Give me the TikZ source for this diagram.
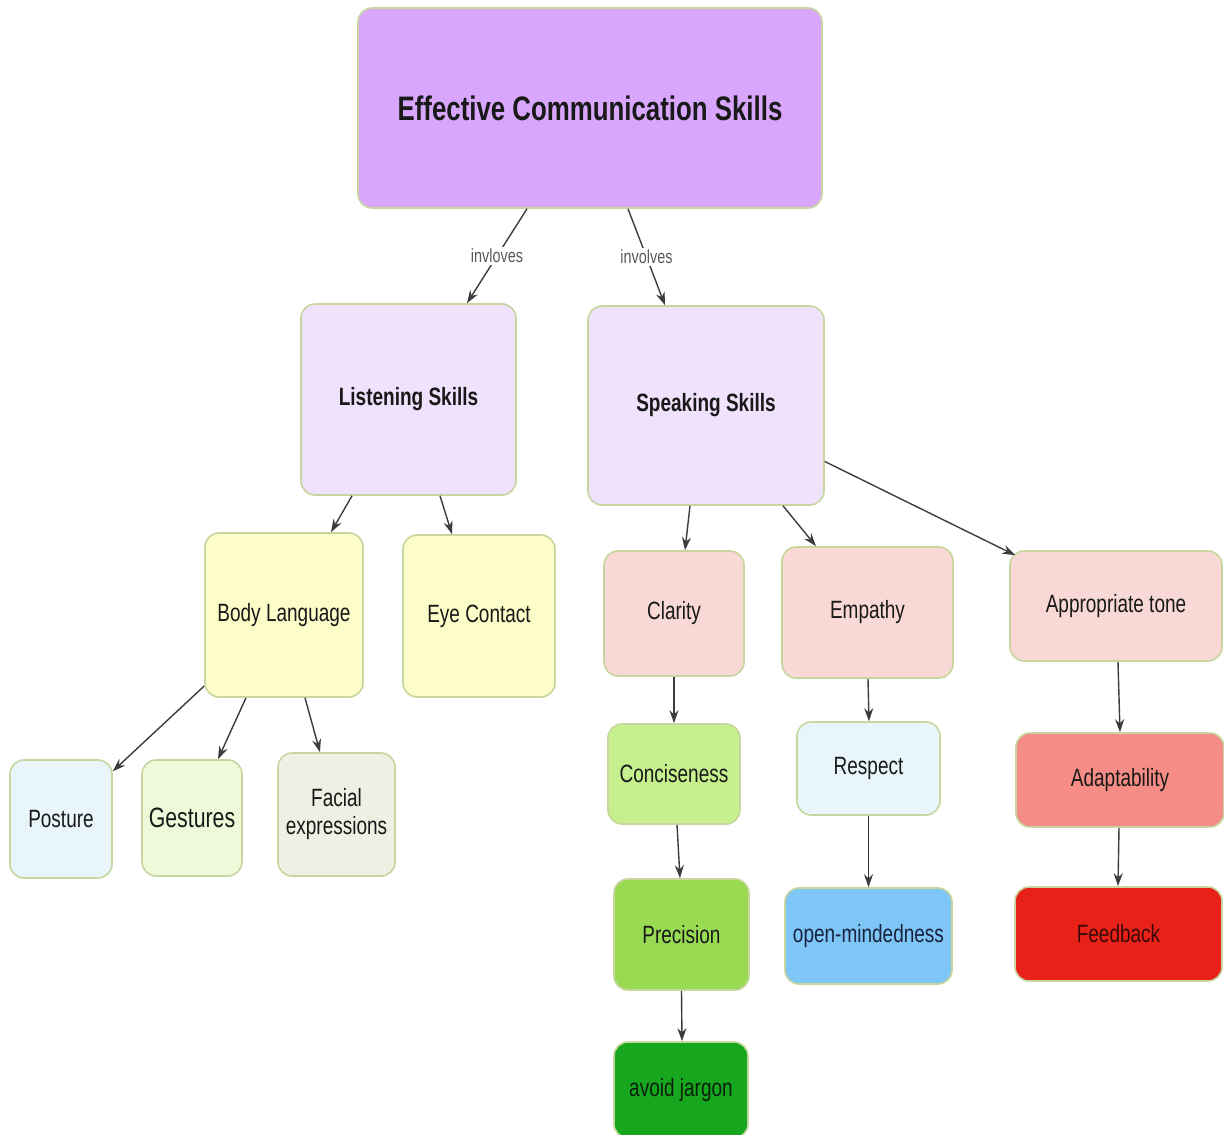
\documentclass[tikz,border=0pt]{standalone}
\usepackage{fontspec}
\setmainfont{Liberation Sans}[FakeStretch=0.76]
\usetikzlibrary{arrows.meta}
\definecolor{bord}{HTML}{C6D69E}
\definecolor{arr}{HTML}{3C3C3C}
\definecolor{cTitle}{HTML}{D8A6FC}
\definecolor{cLav}{HTML}{F0E2FC}
\definecolor{cYel}{HTML}{FDFDC9}
\definecolor{cBlueL}{HTML}{E8F5FA}
\definecolor{cGrnL}{HTML}{EEF9D9}
\definecolor{cGray}{HTML}{EFEFE3}
\definecolor{cPink}{HTML}{F8D9D5}
\definecolor{cConc}{HTML}{C5F08D}
\definecolor{cAdap}{HTML}{F58D86}
\definecolor{cPrec}{HTML}{98DB53}
\definecolor{cOpen}{HTML}{7DC6F6}
\definecolor{cFeed}{HTML}{E82119}
\definecolor{cAvoid}{HTML}{17A71F}
\definecolor{tOpen}{HTML}{1A2240}
\definecolor{tFeed}{HTML}{3A0A08}
\definecolor{tAvoid}{HTML}{0A200A}
\begin{document}
\begin{tikzpicture}[x=1pt,y=-1pt,
  box/.style={draw=bord, line width=1.6pt, rounded corners=14pt, align=center, inner sep=0pt, font=\fontsize{25}{28}\selectfont, text=black!90},
  conn/.style={draw=arr, line width=1.4pt, -{Stealth[length=13pt,width=9pt]}},
  lbl/.style={fill=white, inner sep=2pt, text=black!65, font=\fontsize{19}{21}\selectfont}]
\useasboundingbox (0,0) rectangle (1224,1135);
% nodes
\node[box, fill=cTitle, minimum width=464pt, minimum height=200pt, font=\fontsize{34}{40}\selectfont\bfseries] (ecs) at (590,108) {Effective Communication Skills};
\node[box, fill=cLav, minimum width=215pt, minimum height=191pt, font=\fontsize{25}{28}\selectfont\bfseries] (lis) at (408.5,399.5) {Listening Skills};
\node[box, fill=cLav, minimum width=236pt, minimum height=199pt, font=\fontsize{25}{28}\selectfont\bfseries] (spk) at (706,405.5) {Speaking Skills};
\node[box, fill=cYel, minimum width=158pt, minimum height=164pt] (body) at (284,615) {Body Language};
\node[box, fill=cYel, minimum width=152pt, minimum height=162pt] (eye) at (479,616) {Eye Contact};
\node[box, fill=cBlueL, minimum width=102pt, minimum height=118pt] (post) at (61,819) {Posture};
\node[box, fill=cGrnL, minimum width=100pt, minimum height=116pt, font=\fontsize{28}{31}\selectfont] (gest) at (192,818) {Gestures};
\node[box, fill=cGray, minimum width=117pt, minimum height=123pt] (fac) at (336.5,814.5) {Facial\\expressions};
\node[box, fill=cPink, minimum width=140pt, minimum height=125pt] (clar) at (674,613.5) {Clarity};
\node[box, fill=cPink, minimum width=171pt, minimum height=131pt] (emp) at (867.5,612.5) {Empathy};
\node[box, fill=cPink, minimum width=212pt, minimum height=110pt] (tone) at (1116,606) {Appropriate tone};
\node[box, fill=cConc, minimum width=132pt, minimum height=100pt] (conc) at (674,774) {Conciseness};
\node[box, fill=cBlueL, minimum width=143pt, minimum height=93pt] (resp) at (868.5,768.5) {Respect};
\node[box, fill=cAdap, minimum width=208pt, minimum height=94pt] (adap) at (1120,780) {Adaptability};
\node[box, fill=cPrec, minimum width=135pt, minimum height=111pt] (prec) at (681.5,934.5) {Precision};
\node[box, fill=cOpen, minimum width=167pt, minimum height=96pt, text=tOpen] (open) at (868.5,936) {open-mindedness};
\node[box, fill=cFeed, minimum width=207pt, minimum height=94pt, text=tFeed] (feed) at (1118.5,934) {Feedback};
\node[box, fill=cAvoid, minimum width=134pt, minimum height=96pt, text=tAvoid] (avoid) at (681,1090) {avoid jargon};
% connectors
\draw[conn] ([xshift=-63pt]ecs.south) -- node[lbl, pos=0.5] (l1) {invloves} ([xshift=58.5pt]lis.north);
\draw[conn] ([xshift=38pt]ecs.south) -- node[lbl, pos=0.5] (l2) {involves} ([xshift=-41pt]spk.north);
\draw[conn] ([xshift=-56.5pt]lis.south) -- ([xshift=47pt]body.north);
\draw[conn] ([xshift=31.5pt]lis.south) -- ([xshift=-27pt]eye.north);
\draw[conn] ([xshift=-16pt]spk.south) -- ([xshift=11pt]clar.north);
\draw[conn] ([xshift=77pt]spk.south) -- ([xshift=-51.5pt]emp.north);
\draw[conn] ([yshift=-56pt]spk.east) -- ([xshift=6pt,yshift=-5pt]tone.north west);
\draw[conn] ([yshift=-71pt]body.west) -- ([yshift=-12pt]post.north east);
\draw[conn] ([xshift=-38pt]body.south) -- ([xshift=26pt]gest.north);
\draw[conn] ([xshift=21pt]body.south) -- ([xshift=-16.5pt]fac.north);
\draw[conn] (clar.south) -- (conc.north);
\draw[conn] ([xshift=0.5pt]emp.south) -- ([xshift=0.5pt]resp.north);
\draw[conn] ([xshift=2pt]tone.south) -- (adap.north);
\draw[conn] ([xshift=3pt]conc.south) -- ([xshift=-1.5pt]prec.north);
\draw[conn] (resp.south) -- (open.north);
\draw[conn] ([xshift=-1pt]adap.south) -- ([xshift=-0.5pt]feed.north);
\draw[conn] (prec.south) -- ([xshift=1pt]avoid.north);
\end{tikzpicture}
\end{document}
